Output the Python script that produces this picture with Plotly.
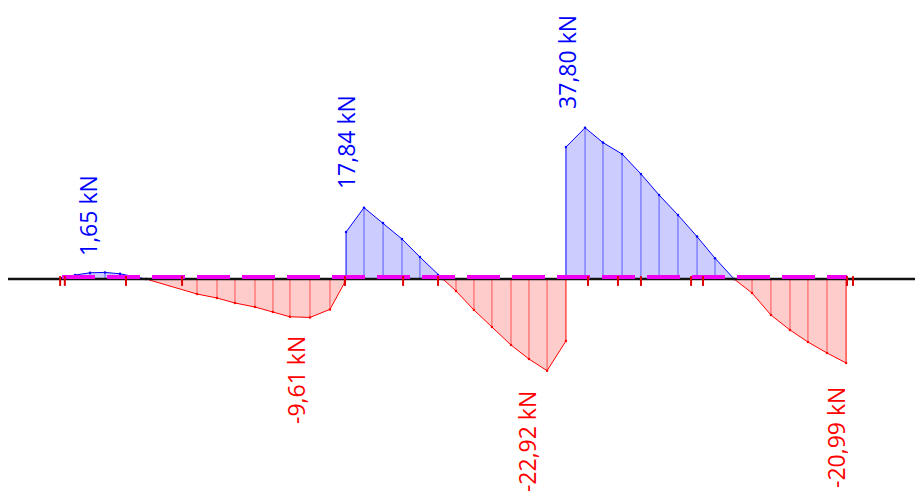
import plotly.graph_objects as go

# Shear force diagram data (x in m, V in kN)
segA_x = [0.0, 0.27, 0.70, 1.50, 2.30, 3.10, 3.90, 4.49]
segA_v = [0.2, 0.5, 1.0, 1.55, 1.65, 1.3, 0.6, 0.0]

segB_x = [4.49, 7.22, 8.29, 9.25, 10.32, 11.28, 12.19, 13.26, 14.33, 15.13]
segB_v = [0.0, -3.75, -4.75, -6.0, -7.0, -8.25, -9.45, -9.61, -7.6, -0.75]

segC_x = [15.19, 16.15, 17.17, 18.18, 19.14, 20.11, 20.37]
segC_v = [11.75, 17.84, 14.0, 10.0, 5.5, 1.0, 0.0]

segD_x = [20.37, 21.07, 22.03, 22.99, 24.01, 24.97, 25.94, 26.95]
segD_v = [0.0, -3.0, -7.75, -12.0, -16.5, -20.0, -22.92, -15.5]

segE_x = [26.95, 27.97, 28.93, 29.95, 30.96, 31.93, 32.94, 33.96, 34.92, 35.94]
segE_v = [33.0, 37.80, 34.1, 31.25, 26.25, 21.0, 16.0, 10.6, 5.2, 0.0]

segF_x = [35.94, 36.90, 37.91, 38.93, 39.89, 40.91, 41.93]
segF_v = [0.0, -3.5, -9.0, -12.75, -15.75, -18.5, -20.99]

beam_x = [-2.89, 46.04]
diagram_x = [0.0, 41.98]
node_x = [-0.1, 0.15, 3.42, 6.42, 15.13, 18.24, 20.11, 28.13, 29.73, 30.96,
          33.64, 34.28, 41.98, 42.30, 45.88]

label_text = ["1,65 kN", "17,84 kN", "37,80 kN", "-9,61 kN", "-22,92 kN", "-20,99 kN"]
label_x = [1.39, 15.19, 27.0, 12.51, 24.87, 41.39]
label_y = [15.75, 34.25, 54.25, -25.25, -40.75, -39.5]

BLUE = "rgb(0,0,255)"
RED = "rgb(255,0,0)"

segments = [(segA_x, segA_v), (segB_x, segB_v), (segC_x, segC_v),
            (segD_x, segD_v), (segE_x, segE_v), (segF_x, segF_v)]

fig = go.Figure()

for xs, vs in segments:
    pos = max(vs) > 0
    px = [xs[0]] + list(xs) + [xs[-1]]
    py = [0] + list(vs) + [0]
    fig.add_trace(go.Scatter(
        x=px, y=py, mode="lines", fill="toself",
        fillcolor="rgba(0,0,255,0.2)" if pos else "rgba(255,0,0,0.2)",
        line=dict(color=BLUE if pos else RED, width=1),
        hoverinfo="skip", showlegend=False))
    hx, hy = [], []
    for x, v in zip(xs[1:-1], vs[1:-1]):
        hx += [x, x, None]
        hy += [0, v, None]
    fig.add_trace(go.Scatter(
        x=hx, y=hy, mode="lines",
        line=dict(color="rgba(0,0,255,0.55)" if pos else "rgba(255,0,0,0.6)", width=1),
        hoverinfo="skip", showlegend=False))
    fig.add_trace(go.Scatter(
        x=xs, y=vs, mode="markers",
        marker=dict(color=BLUE if pos else RED, size=2.5),
        hoverinfo="skip", showlegend=False))

fig.add_trace(go.Scatter(x=beam_x, y=[0, 0], mode="lines",
                         line=dict(color="#111111", width=2.5),
                         hoverinfo="skip", showlegend=False))
fig.add_trace(go.Scatter(x=diagram_x, y=[0.5, 0.5], mode="lines",
                         line=dict(color="rgb(240,0,240)", width=4, dash="33px,12px"),
                         hoverinfo="skip", showlegend=False))
fig.add_trace(go.Scatter(x=node_x, y=[-0.5] * len(node_x), mode="markers",
                         marker=dict(symbol="line-ns-open", size=7, color="rgb(220,0,0)",
                                     line=dict(color="rgb(220,0,0)", width=2)),
                         hoverinfo="skip", showlegend=False))

for t, x, y in zip(label_text, label_x, label_y):
    fig.add_annotation(x=x, y=y, text=t, showarrow=False, textangle=-90,
                       xanchor="center", yanchor="middle",
                       font=dict(family="Open Sans", size=23,
                                 color=RED if t.startswith("-") else BLUE))

# page body has an 8px margin; figure covers page px 8..923 x 8..493
fig.update_layout(
    width=915, height=485,
    margin=dict(l=0, r=0, t=0, b=0),
    paper_bgcolor="white", plot_bgcolor="white",
    xaxis=dict(range=[-2.888, 46.043], visible=False, fixedrange=True),
    yaxis=dict(range=[-53.5, 67.75], visible=False, fixedrange=True),
    showlegend=False,
)

fig.write_html("out.html")
